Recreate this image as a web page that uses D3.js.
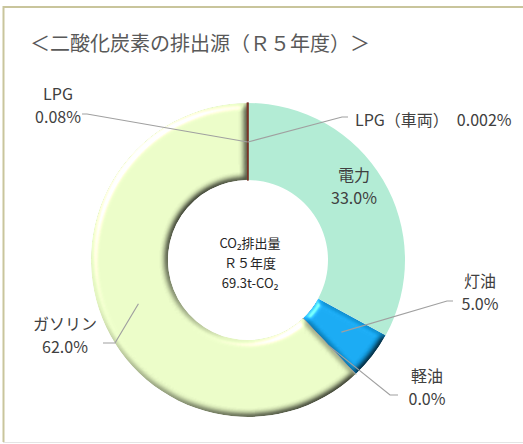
<!DOCTYPE html>
<html>
<head>
<meta charset="utf-8">
<script src="https://cdn.jsdelivr.net/npm/d3@7"></script>
<style>
  body{margin:0;background:#fff;}
  svg text{font-family:"Noto Sans CJK JP","Noto Sans",sans-serif;fill:#404040;}
</style>
</head>
<body>
<div id="canvas"></div>
<script>
// data
var sources = ["電力", "灯油", "軽油", "ガソリン", "LPG", "LPG（車両）"];
var shares = [33.0, 5.0, 0.01, 62.0, 0.08, 0.002];
var shareText = ["33.0%", "5.0%", "0.0%", "62.0%", "0.08%", "0.002%"];
var centerLines = ["CO₂排出量", "Ｒ５年度", "69.3t-CO₂"];

var W = 523, H = 444;
var cx = 248, cy = 260, rOut = 157, rIn = 80;

var svg = d3.select('#canvas').append('svg')
    .attr('width', W).attr('height', H);

// frame
svg.append('line').attr('x1',3).attr('y1',7).attr('x2',W).attr('y2',7)
    .style('stroke','#c9c59c').style('stroke-width',2);
svg.append('line').attr('x1',3.5).attr('y1',6).attr('x2',3.5).attr('y2',442)
    .style('stroke','#c9c59c').style('stroke-width',2);
svg.append('line').attr('x1',3).attr('y1',442.5).attr('x2',W).attr('y2',442.5)
    .style('stroke','#e4e4e4').style('stroke-width',1);

svg.append('text').attr('x',30).attr('y',51)
    .style('font-size','20px').style('fill','#595959')
    .text('＜二酸化炭素の排出源（Ｒ５年度）＞');

// bevel filter (light from top-left)
var defs = svg.append('defs');
var f = defs.append('filter').attr('id','bevel')
    .attr('color-interpolation-filters','sRGB')
    .attr('x','-10%').attr('y','-10%').attr('width','120%').attr('height','120%');
f.append('feGaussianBlur').attr('in','SourceAlpha').attr('stdDeviation',3).attr('result','blur');
f.append('feDiffuseLighting').attr('in','blur').attr('surfaceScale',3.5)
    .attr('diffuseConstant',1.22).attr('lighting-color','#fff').attr('result','diff')
  .append('feDistantLight').attr('azimuth',225).attr('elevation',55);
f.append('feSpecularLighting').attr('in','blur').attr('surfaceScale',4)
    .attr('specularConstant',0.6).attr('specularExponent',20)
    .attr('lighting-color','#fff').attr('result','spec')
  .append('feDistantLight').attr('azimuth',225).attr('elevation',35);
f.append('feComposite').attr('in','SourceGraphic').attr('in2','diff')
    .attr('operator','arithmetic').attr('k1',1).attr('result','lit');
f.append('feComposite').attr('in','spec').attr('in2','SourceAlpha')
    .attr('operator','in').attr('result','specIn');
f.append('feComposite').attr('in','lit').attr('in2','specIn')
    .attr('operator','arithmetic').attr('k2',1).attr('k3',0.7).attr('result','out');
f.append('feComposite').attr('in','out').attr('in2','SourceAlpha').attr('operator','in');

var colors = ["#b3ecd5", "#12a2ea", "#9a9a9a", "#e2f3bf", "#7a3527", "#7a3527"];
var bevel = [false, true, false, true, false, false];

var pie = d3.pie().sort(null).value(function(d){ return d; });
var arcs = pie(shares);
var arc = d3.arc().innerRadius(rIn).outerRadius(rOut);
var midArc = d3.arc().innerRadius(118).outerRadius(118);

var g = svg.append('g').attr('transform','translate(' + cx + ',' + cy + ')');

g.selectAll('path.slice')
    .data(arcs)
    .enter()
    .append('path')
    .attr('class','slice')
    .attr('d', arc)
    .style('fill', function(d,i){ return colors[i]; })
    .style('stroke', function(d,i){ return (i==2 || i>=4) ? colors[i] : 'none'; })
    .style('stroke-width', function(d,i){ return i==2 ? 1 : 1.2; })
    .attr('filter', function(d,i){ return bevel[i] ? 'url(#bevel)' : null; });

// label layout (offsets from chart centre): text centre, elbow, elbow end
var layout = [
    {tx:106,  ty:-74, anchor:'middle'},
    {tx:232,  ty:32,  anchor:'middle', elbow:[199,41], end:[205,41]},
    {tx:179,  ty:127, anchor:'middle', elbow:[142,135], end:[150,135]},
    {tx:-183, ty:75,  anchor:'middle', elbow:[-133,83], end:[-145,83]},
    {tx:-190, ty:-155,anchor:'middle', elbow:[-161,-146], end:[-166,-146]},
    {tx:107,  ty:-140,anchor:'start', elbow:[94,-143], end:[100,-143]}
];

// leader lines
g.selectAll('polyline.leader')
    .data(arcs.filter(function(d,i){ return layout[i].elbow; }))
    .enter()
    .append('polyline')
    .attr('class','leader')
    .attr('points', function(d){
        var L = layout[d.index];
        var c = midArc.centroid(d);
        return [c, L.elbow, L.end].map(function(p){ return p.join(','); }).join(' ');
    })
    .style('fill','none').style('stroke','#a0a0a0').style('stroke-width',1.2);

// labels
var lab = g.selectAll('text.lab')
    .data(arcs)
    .enter()
    .append('text')
    .attr('class','lab')
    .style('font-size','16px')
    .attr('text-anchor', function(d){ return layout[d.index].anchor; });

lab.each(function(d){
    var L = layout[d.index];
    var t = d3.select(this);
    if (L.anchor == 'start') {
        t.append('tspan').attr('x',L.tx).attr('y',L.ty + 6)
            .text(sources[d.index] + '\u3000' + shareText[d.index]);
    } else {
        t.append('tspan').attr('x',L.tx).attr('y',L.ty - 5).text(sources[d.index]);
        t.append('tspan').attr('x',L.tx).attr('y',L.ty + 18).text(shareText[d.index]);
    }
});

// centre text
g.selectAll('text.ctr')
    .data(centerLines)
    .enter()
    .append('text')
    .attr('class','ctr')
    .attr('text-anchor','middle')
    .attr('x',2)
    .attr('y', function(d,i){ return -12 + i*20; })
    .style('font-size','13px')
    .style('fill','#262626')
    .text(function(d){ return d; });
</script>
</body>
</html>
